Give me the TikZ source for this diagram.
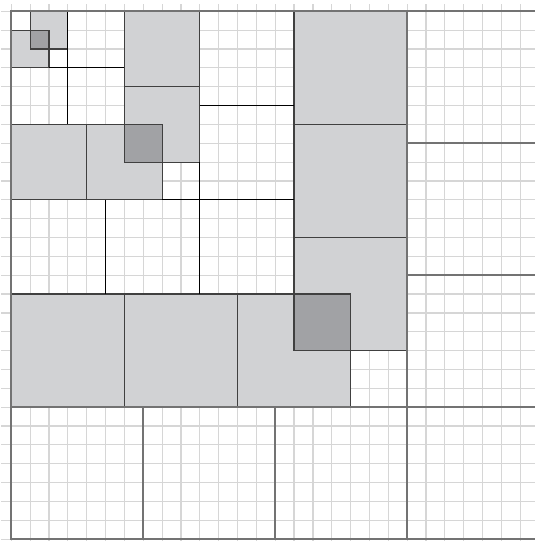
\documentclass[tikz,border=0pt]{standalone}
\definecolor{lightfill}{RGB}{209,210,212}
\definecolor{darkfill}{RGB}{161,162,165}
\begin{document}
\begin{tikzpicture}[x=0.5cm,y=-0.5cm,
  gridline/.style={draw=black!16, line width=0.9pt},
  frameline/.style={draw=black!55, line width=1.4pt},
  divider/.style={draw=black!55, line width=1.4pt},
  blackline/.style={draw=black, line width=0.95pt},
  lightsq/.style={fill=lightfill},
  darksq/.style={fill=darkfill},
  sqedge/.style={draw=black!75, line width=0.9pt}]
\useasboundingbox (-0.6,-0.6) rectangle (27.77,28.1);
\clip (-0.6,-0.6) rectangle (27.77,28.1);
% grid
\foreach \i in {0,...,27} \draw[gridline] (\i,-0.37) -- (\i,28.1);
\foreach \j in {0,...,28} \draw[gridline] (-0.53,\j) -- (27.77,\j);
% light squares
\foreach \a/\b/\c/\d in {1/0/3/2, 0/1/2/3, 6/0/10/4, 6/4/10/8, 4/6/8/10, 0/6/4/10,
  15/0/21/6, 15/6/21/12, 15/12/21/18, 0/15/6/21, 6/15/12/21, 12/15/18/21}
  \fill[lightsq] (\a,\b) rectangle (\c,\d);
% dark overlaps
\foreach \a/\b/\c/\d in {1/1/2/2, 6/6/8/8, 15/15/18/18}
  \fill[darksq] (\a,\b) rectangle (\c,\d);
% square outlines
\foreach \a/\b/\c/\d in {1/0/3/2, 0/1/2/3, 6/0/10/4, 6/4/10/8, 4/6/8/10, 0/6/4/10,
  15/0/21/6, 15/6/21/12, 15/12/21/18, 0/15/6/21, 6/15/12/21, 12/15/18/21}
  \draw[sqedge] (\a,\b) rectangle (\c,\d);
% black subdivision lines
\draw[blackline] (3,0) -- (3,6);
\draw[blackline] (2,3) -- (6,3);
\draw[blackline] (10,8) -- (10,15);
\draw[blackline] (8,10) -- (15,10);
\draw[blackline] (10,5) -- (15,5);
\draw[blackline] (5,10) -- (5,15);
% gray dividers
\draw[divider] (21,0) -- (21,28);
\draw[divider] (0,21) -- (27.77,21);
\draw[divider] (7,21) -- (7,28);
\draw[divider] (14,21) -- (14,28);
\draw[divider] (21,7) -- (27.77,7);
\draw[divider] (21,14) -- (27.77,14);
% frame
\draw[frameline] (27.77,0) -- (0,0) -- (0,28) -- (27.77,28);
\end{tikzpicture}
\end{document}
